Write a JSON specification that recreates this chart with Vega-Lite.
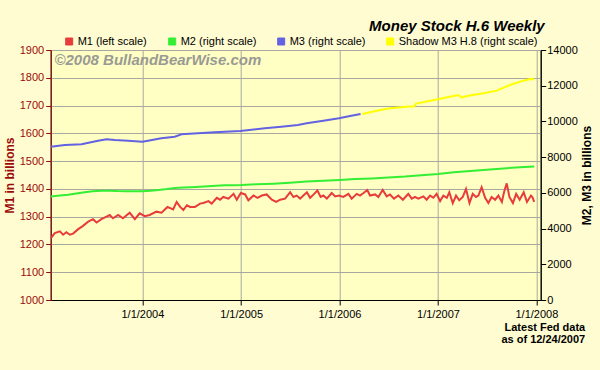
{
"$schema": "https://vega.github.io/schema/vega-lite/v6.json",
"width": 490, "height": 250,
"autosize": {"type": "none"},
"padding": {"left": 50.7, "top": 50, "right": 59.3, "bottom": 70},
"background": "#FFFCD2",
"config": {
  "font": "Liberation Sans",
  "view": {"fill": "#FFFFC4", "stroke": "#000000", "strokeWidth": 1},
  "axis": {"labelFont": "Liberation Sans", "labelFontSize": 11, "titleFont": "Liberation Sans", "gridColor": "#A8A8A0", "gridOpacity": 1, "gridWidth": 1, "tickSize": 5, "domainWidth": 1, "tickWidth": 1, "labelOverlap": false}
},
"title": {"text": "Money Stock H.6 Weekly", "anchor": "end", "frame": "group", "font": "Liberation Sans", "fontSize": 15, "fontWeight": "bold", "fontStyle": "italic", "color": "#000000", "dx": 4, "offset": 2},
"datasets": {"d": [
{"date":"2003-01-27","series":"M1 (left scale)","v":1223},
{"date":"2003-02-10","series":"M1 (left scale)","v":1241},
{"date":"2003-03-01","series":"M1 (left scale)","v":1247},
{"date":"2003-03-13","series":"M1 (left scale)","v":1235},
{"date":"2003-03-25","series":"M1 (left scale)","v":1244},
{"date":"2003-04-07","series":"M1 (left scale)","v":1235},
{"date":"2003-04-19","series":"M1 (left scale)","v":1239},
{"date":"2003-05-08","series":"M1 (left scale)","v":1255},
{"date":"2003-05-26","series":"M1 (left scale)","v":1267},
{"date":"2003-06-14","series":"M1 (left scale)","v":1282},
{"date":"2003-07-02","series":"M1 (left scale)","v":1291},
{"date":"2003-07-15","series":"M1 (left scale)","v":1279},
{"date":"2003-08-02","series":"M1 (left scale)","v":1291},
{"date":"2003-08-21","series":"M1 (left scale)","v":1300},
{"date":"2003-09-02","series":"M1 (left scale)","v":1306},
{"date":"2003-09-14","series":"M1 (left scale)","v":1294},
{"date":"2003-10-03","series":"M1 (left scale)","v":1306},
{"date":"2003-10-21","series":"M1 (left scale)","v":1294},
{"date":"2003-11-15","series":"M1 (left scale)","v":1314},
{"date":"2003-12-04","series":"M1 (left scale)","v":1291},
{"date":"2003-12-22","series":"M1 (left scale)","v":1312},
{"date":"2004-01-10","series":"M1 (left scale)","v":1302},
{"date":"2004-01-28","series":"M1 (left scale)","v":1306},
{"date":"2004-02-22","series":"M1 (left scale)","v":1318},
{"date":"2004-03-12","series":"M1 (left scale)","v":1314},
{"date":"2004-04-03","series":"M1 (left scale)","v":1335},
{"date":"2004-04-24","series":"M1 (left scale)","v":1326},
{"date":"2004-05-07","series":"M1 (left scale)","v":1353},
{"date":"2004-05-20","series":"M1 (left scale)","v":1335},
{"date":"2004-06-01","series":"M1 (left scale)","v":1324},
{"date":"2004-06-14","series":"M1 (left scale)","v":1341},
{"date":"2004-06-26","series":"M1 (left scale)","v":1335},
{"date":"2004-07-14","series":"M1 (left scale)","v":1335},
{"date":"2004-08-02","series":"M1 (left scale)","v":1347},
{"date":"2004-08-14","series":"M1 (left scale)","v":1349},
{"date":"2004-09-02","series":"M1 (left scale)","v":1356},
{"date":"2004-09-14","series":"M1 (left scale)","v":1347},
{"date":"2004-10-03","series":"M1 (left scale)","v":1368},
{"date":"2004-10-15","series":"M1 (left scale)","v":1361},
{"date":"2004-10-27","series":"M1 (left scale)","v":1371},
{"date":"2004-11-15","series":"M1 (left scale)","v":1365},
{"date":"2004-12-04","series":"M1 (left scale)","v":1382},
{"date":"2004-12-16","series":"M1 (left scale)","v":1361},
{"date":"2004-12-31","series":"M1 (left scale)","v":1385},
{"date":"2005-01-16","series":"M1 (left scale)","v":1380},
{"date":"2005-01-28","series":"M1 (left scale)","v":1359},
{"date":"2005-02-16","series":"M1 (left scale)","v":1376},
{"date":"2005-03-03","series":"M1 (left scale)","v":1368},
{"date":"2005-03-19","series":"M1 (left scale)","v":1376},
{"date":"2005-04-06","series":"M1 (left scale)","v":1380},
{"date":"2005-04-25","series":"M1 (left scale)","v":1361},
{"date":"2005-05-11","series":"M1 (left scale)","v":1353},
{"date":"2005-05-26","series":"M1 (left scale)","v":1361},
{"date":"2005-06-13","series":"M1 (left scale)","v":1365},
{"date":"2005-07-02","series":"M1 (left scale)","v":1388},
{"date":"2005-07-14","series":"M1 (left scale)","v":1371},
{"date":"2005-07-26","series":"M1 (left scale)","v":1376},
{"date":"2005-08-08","series":"M1 (left scale)","v":1365},
{"date":"2005-08-20","series":"M1 (left scale)","v":1376},
{"date":"2005-09-02","series":"M1 (left scale)","v":1388},
{"date":"2005-09-14","series":"M1 (left scale)","v":1368},
{"date":"2005-09-29","series":"M1 (left scale)","v":1382},
{"date":"2005-10-11","series":"M1 (left scale)","v":1394},
{"date":"2005-10-23","series":"M1 (left scale)","v":1371},
{"date":"2005-11-02","series":"M1 (left scale)","v":1376},
{"date":"2005-11-15","series":"M1 (left scale)","v":1365},
{"date":"2005-12-03","series":"M1 (left scale)","v":1385},
{"date":"2005-12-16","series":"M1 (left scale)","v":1373},
{"date":"2005-12-30","series":"M1 (left scale)","v":1376},
{"date":"2006-01-15","series":"M1 (left scale)","v":1371},
{"date":"2006-02-03","series":"M1 (left scale)","v":1382},
{"date":"2006-02-15","series":"M1 (left scale)","v":1365},
{"date":"2006-03-06","series":"M1 (left scale)","v":1382},
{"date":"2006-03-18","series":"M1 (left scale)","v":1376},
{"date":"2006-03-31","series":"M1 (left scale)","v":1385},
{"date":"2006-04-14","series":"M1 (left scale)","v":1396},
{"date":"2006-04-24","series":"M1 (left scale)","v":1376},
{"date":"2006-05-13","series":"M1 (left scale)","v":1380},
{"date":"2006-05-25","series":"M1 (left scale)","v":1371},
{"date":"2006-06-10","series":"M1 (left scale)","v":1396},
{"date":"2006-06-25","series":"M1 (left scale)","v":1373},
{"date":"2006-07-07","series":"M1 (left scale)","v":1380},
{"date":"2006-07-22","series":"M1 (left scale)","v":1365},
{"date":"2006-08-07","series":"M1 (left scale)","v":1376},
{"date":"2006-08-24","series":"M1 (left scale)","v":1361},
{"date":"2006-09-13","series":"M1 (left scale)","v":1382},
{"date":"2006-09-26","series":"M1 (left scale)","v":1365},
{"date":"2006-10-08","series":"M1 (left scale)","v":1371},
{"date":"2006-10-20","series":"M1 (left scale)","v":1365},
{"date":"2006-11-08","series":"M1 (left scale)","v":1373},
{"date":"2006-11-20","series":"M1 (left scale)","v":1361},
{"date":"2006-12-03","series":"M1 (left scale)","v":1376},
{"date":"2006-12-15","series":"M1 (left scale)","v":1368},
{"date":"2006-12-27","series":"M1 (left scale)","v":1382},
{"date":"2007-01-09","series":"M1 (left scale)","v":1356},
{"date":"2007-01-21","series":"M1 (left scale)","v":1376},
{"date":"2007-02-03","series":"M1 (left scale)","v":1368},
{"date":"2007-02-12","series":"M1 (left scale)","v":1388},
{"date":"2007-02-25","series":"M1 (left scale)","v":1349},
{"date":"2007-03-09","series":"M1 (left scale)","v":1376},
{"date":"2007-03-21","series":"M1 (left scale)","v":1359},
{"date":"2007-04-03","series":"M1 (left scale)","v":1371},
{"date":"2007-04-15","series":"M1 (left scale)","v":1400},
{"date":"2007-04-28","series":"M1 (left scale)","v":1349},
{"date":"2007-05-10","series":"M1 (left scale)","v":1382},
{"date":"2007-05-22","series":"M1 (left scale)","v":1371},
{"date":"2007-05-31","series":"M1 (left scale)","v":1376},
{"date":"2007-06-12","series":"M1 (left scale)","v":1406},
{"date":"2007-06-25","series":"M1 (left scale)","v":1368},
{"date":"2007-07-07","series":"M1 (left scale)","v":1349},
{"date":"2007-07-19","series":"M1 (left scale)","v":1371},
{"date":"2007-08-01","series":"M1 (left scale)","v":1361},
{"date":"2007-08-13","series":"M1 (left scale)","v":1376},
{"date":"2007-08-26","series":"M1 (left scale)","v":1353},
{"date":"2007-09-03","series":"M1 (left scale)","v":1388},
{"date":"2007-09-13","series":"M1 (left scale)","v":1420},
{"date":"2007-09-23","series":"M1 (left scale)","v":1371},
{"date":"2007-10-06","series":"M1 (left scale)","v":1349},
{"date":"2007-10-18","series":"M1 (left scale)","v":1382},
{"date":"2007-10-31","series":"M1 (left scale)","v":1361},
{"date":"2007-11-15","series":"M1 (left scale)","v":1388},
{"date":"2007-11-27","series":"M1 (left scale)","v":1353},
{"date":"2007-12-12","series":"M1 (left scale)","v":1376},
{"date":"2007-12-17","series":"M1 (left scale)","v":1371},
{"date":"2007-12-24","series":"M1 (left scale)","v":1353},
{"date":"2003-01-27","series":"M2 (right scale)","v":5800},
{"date":"2003-03-01","series":"M2 (right scale)","v":5850},
{"date":"2003-04-01","series":"M2 (right scale)","v":5900},
{"date":"2003-05-01","series":"M2 (right scale)","v":5960},
{"date":"2003-06-01","series":"M2 (right scale)","v":6030},
{"date":"2003-07-01","series":"M2 (right scale)","v":6090},
{"date":"2003-08-01","series":"M2 (right scale)","v":6120},
{"date":"2003-09-01","series":"M2 (right scale)","v":6120},
{"date":"2003-10-01","series":"M2 (right scale)","v":6100},
{"date":"2003-11-01","series":"M2 (right scale)","v":6090},
{"date":"2003-12-01","series":"M2 (right scale)","v":6085},
{"date":"2004-01-01","series":"M2 (right scale)","v":6090},
{"date":"2004-02-01","series":"M2 (right scale)","v":6120},
{"date":"2004-03-01","series":"M2 (right scale)","v":6160},
{"date":"2004-04-01","series":"M2 (right scale)","v":6210},
{"date":"2004-05-01","series":"M2 (right scale)","v":6270},
{"date":"2004-06-01","series":"M2 (right scale)","v":6300},
{"date":"2004-07-01","series":"M2 (right scale)","v":6320},
{"date":"2004-08-01","series":"M2 (right scale)","v":6340},
{"date":"2004-09-01","series":"M2 (right scale)","v":6370},
{"date":"2004-10-01","series":"M2 (right scale)","v":6400},
{"date":"2004-11-01","series":"M2 (right scale)","v":6420},
{"date":"2004-12-01","series":"M2 (right scale)","v":6430},
{"date":"2005-01-01","series":"M2 (right scale)","v":6440},
{"date":"2005-03-01","series":"M2 (right scale)","v":6480},
{"date":"2005-05-01","series":"M2 (right scale)","v":6510},
{"date":"2005-07-01","series":"M2 (right scale)","v":6560},
{"date":"2005-09-01","series":"M2 (right scale)","v":6630},
{"date":"2005-11-01","series":"M2 (right scale)","v":6680},
{"date":"2006-01-01","series":"M2 (right scale)","v":6720},
{"date":"2006-03-01","series":"M2 (right scale)","v":6770},
{"date":"2006-05-01","series":"M2 (right scale)","v":6810},
{"date":"2006-07-01","series":"M2 (right scale)","v":6860},
{"date":"2006-09-01","series":"M2 (right scale)","v":6910},
{"date":"2006-11-01","series":"M2 (right scale)","v":6990},
{"date":"2007-01-01","series":"M2 (right scale)","v":7060},
{"date":"2007-03-01","series":"M2 (right scale)","v":7150},
{"date":"2007-05-01","series":"M2 (right scale)","v":7220},
{"date":"2007-07-01","series":"M2 (right scale)","v":7290},
{"date":"2007-09-01","series":"M2 (right scale)","v":7370},
{"date":"2007-11-01","series":"M2 (right scale)","v":7430},
{"date":"2007-12-24","series":"M2 (right scale)","v":7480},
{"date":"2003-01-27","series":"M3 (right scale)","v":8587},
{"date":"2003-03-19","series":"M3 (right scale)","v":8680},
{"date":"2003-05-20","series":"M3 (right scale)","v":8717},
{"date":"2003-07-21","series":"M3 (right scale)","v":8923},
{"date":"2003-08-21","series":"M3 (right scale)","v":8997},
{"date":"2003-09-21","series":"M3 (right scale)","v":8960},
{"date":"2003-11-09","series":"M3 (right scale)","v":8923},
{"date":"2004-01-01","series":"M3 (right scale)","v":8867},
{"date":"2004-01-22","series":"M3 (right scale)","v":8923},
{"date":"2004-03-11","series":"M3 (right scale)","v":9053},
{"date":"2004-04-30","series":"M3 (right scale)","v":9147},
{"date":"2004-05-25","series":"M3 (right scale)","v":9277},
{"date":"2004-07-25","series":"M3 (right scale)","v":9333},
{"date":"2004-09-25","series":"M3 (right scale)","v":9389},
{"date":"2004-12-29","series":"M3 (right scale)","v":9464},
{"date":"2005-03-30","series":"M3 (right scale)","v":9613},
{"date":"2005-05-30","series":"M3 (right scale)","v":9707},
{"date":"2005-07-31","series":"M3 (right scale)","v":9800},
{"date":"2005-09-01","series":"M3 (right scale)","v":9893},
{"date":"2005-11-02","series":"M3 (right scale)","v":10043},
{"date":"2005-12-30","series":"M3 (right scale)","v":10173},
{"date":"2006-02-09","series":"M3 (right scale)","v":10304},
{"date":"2006-03-20","series":"M3 (right scale)","v":10416},
{"date":"2006-03-27","series":"Shadow M3 H.8 (right scale)","v":10416},
{"date":"2006-05-19","series":"Shadow M3 H.8 (right scale)","v":10603},
{"date":"2006-07-07","series":"Shadow M3 H.8 (right scale)","v":10733},
{"date":"2006-09-07","series":"Shadow M3 H.8 (right scale)","v":10827},
{"date":"2006-10-05","series":"Shadow M3 H.8 (right scale)","v":10850},
{"date":"2006-10-12","series":"Shadow M3 H.8 (right scale)","v":11000},
{"date":"2006-12-03","series":"Shadow M3 H.8 (right scale)","v":11163},
{"date":"2007-01-01","series":"Shadow M3 H.8 (right scale)","v":11237},
{"date":"2007-02-27","series":"Shadow M3 H.8 (right scale)","v":11424},
{"date":"2007-03-18","series":"Shadow M3 H.8 (right scale)","v":11480},
{"date":"2007-03-30","series":"Shadow M3 H.8 (right scale)","v":11330},
{"date":"2007-04-18","series":"Shadow M3 H.8 (right scale)","v":11424},
{"date":"2007-06-19","series":"Shadow M3 H.8 (right scale)","v":11573},
{"date":"2007-08-07","series":"Shadow M3 H.8 (right scale)","v":11723},
{"date":"2007-09-25","series":"Shadow M3 H.8 (right scale)","v":12040},
{"date":"2007-11-14","series":"Shadow M3 H.8 (right scale)","v":12283},
{"date":"2007-12-08","series":"Shadow M3 H.8 (right scale)","v":12376},
{"date":"2007-12-24","series":"Shadow M3 H.8 (right scale)","v":12357}
]},
"layer": [
  {"layer": [
    {"data": {"name": "d"},
     "transform": [{"filter": "datum.series === 'M1 (left scale)'"}],
     "mark": {"type": "line", "strokeWidth": 2},
     "encoding": {
       "x": {"field": "date", "type": "temporal",
         "scale": {"type": "utc", "domain": [{"year": 2003, "month": 1, "date": 26, "utc": true}, {"year": 2008, "month": 1, "date": 17, "utc": true}]},
         "axis": {"values": [{"year": 2004, "month": 1, "date": 1, "utc": true}, {"year": 2005, "month": 1, "date": 1, "utc": true}, {"year": 2006, "month": 1, "date": 1, "utc": true}, {"year": 2007, "month": 1, "date": 1, "utc": true}, {"year": 2008, "month": 1, "date": 1, "utc": true}],
           "labelExpr": "utcFormat(datum.value, '%-m/%-d/%Y')", "labelColor": "#000000", "tickColor": "#000000", "domainColor": "#000000", "labelPadding": 3, "grid": true,
           "title": ["Latest Fed data", "as of 12/24/2007"], "titleFontSize": 11, "titleFontWeight": "bold", "titleColor": "#000000",
           "titleAnchor": "end", "titleAlign": "right", "titleX": 534, "titleY": 21, "titleBaseline": "top", "titleLineHeight": 12}},
       "y": {"field": "v", "type": "quantitative", "scale": {"domain": [1000, 1900]},
         "axis": {"values": [1000, 1100, 1200, 1300, 1400, 1500, 1600, 1700, 1800, 1900], "format": "d", "labelColor": "#9B0A0A", "tickColor": "#9B0A0A", "domainColor": "#9B0A0A", "grid": true, "labelPadding": 2,
           "title": "M1 in billions", "titleColor": "#9B0A0A", "titleFontSize": 12, "titleFontWeight": "bold", "titlePadding": 3}},
       "color": {"field": "series", "type": "nominal",
         "scale": {"domain": ["M1 (left scale)", "M2 (right scale)", "M3 (right scale)", "Shadow M3 H.8 (right scale)"], "range": ["#E83C3C", "#33EE33", "#6262E2", "#FFFF00"]},
         "legend": {"orient": "none", "legendX": 13, "legendY": -14, "direction": "horizontal", "columns": 4, "title": null,
           "labelFont": "Liberation Sans", "labelFontSize": 11, "labelColor": "#000000", "labelOffset": 3, "labelLimit": 300,
           "symbolType": "square", "symbolSize": 49, "symbolStrokeWidth": 1, "symbolStrokeColor": "#333333", "columnPadding": 19, "padding": 0, "symbolOffset": 0,
           "encode": {"symbols": {"update": {"fill": {"scale": "color", "field": "value"}, "stroke": {"value": "#333333"}, "strokeWidth": {"value": 1}, "opacity": {"value": 1}}}}}}}},
    {"data": {"values": [{}]},
     "mark": {"type": "text", "text": "©2008 BullandBearWise.com", "align": "left", "baseline": "middle", "font": "Liberation Sans", "fontSize": 15, "fontWeight": "bold", "fontStyle": "italic", "color": "#9A9A94"},
     "encoding": {
       "x": {"datum": {"year": 2003, "month": 2, "date": 9, "utc": true}, "type": "temporal",
         "axis": {"values": [{"year": 2004, "month": 1, "date": 1, "utc": true}, {"year": 2005, "month": 1, "date": 1, "utc": true}, {"year": 2006, "month": 1, "date": 1, "utc": true}, {"year": 2007, "month": 1, "date": 1, "utc": true}, {"year": 2008, "month": 1, "date": 1, "utc": true}],
           "labelExpr": "utcFormat(datum.value, '%-m/%-d/%Y')", "labelColor": "#000000", "tickColor": "#000000", "domainColor": "#000000", "labelPadding": 3, "grid": true,
           "title": ["Latest Fed data", "as of 12/24/2007"], "titleFontSize": 11, "titleFontWeight": "bold", "titleColor": "#000000",
           "titleAnchor": "end", "titleAlign": "right", "titleX": 534, "titleY": 21, "titleBaseline": "top", "titleLineHeight": 12}},
       "y": {"datum": 1864, "type": "quantitative",
         "axis": {"values": [1000, 1100, 1200, 1300, 1400, 1500, 1600, 1700, 1800, 1900], "format": "d", "labelColor": "#9B0A0A", "tickColor": "#9B0A0A", "domainColor": "#9B0A0A", "grid": true, "labelPadding": 2,
           "title": "M1 in billions", "titleColor": "#9B0A0A", "titleFontSize": 12, "titleFontWeight": "bold", "titlePadding": 3}}}}
  ]},
  {"data": {"name": "d"},
   "transform": [{"filter": "datum.series !== 'M1 (left scale)'"}],
   "mark": {"type": "line", "strokeWidth": 2},
   "encoding": {
     "x": {"field": "date", "type": "temporal",
       "axis": {"values": [{"year": 2004, "month": 1, "date": 1, "utc": true}, {"year": 2005, "month": 1, "date": 1, "utc": true}, {"year": 2006, "month": 1, "date": 1, "utc": true}, {"year": 2007, "month": 1, "date": 1, "utc": true}, {"year": 2008, "month": 1, "date": 1, "utc": true}],
         "labelExpr": "utcFormat(datum.value, '%-m/%-d/%Y')", "labelColor": "#000000", "tickColor": "#000000", "domainColor": "#000000", "labelPadding": 3, "grid": true,
         "title": ["Latest Fed data", "as of 12/24/2007"], "titleFontSize": 11, "titleFontWeight": "bold", "titleColor": "#000000",
         "titleAnchor": "end", "titleAlign": "right", "titleX": 534, "titleY": 21, "titleBaseline": "top", "titleLineHeight": 12}},
     "y": {"field": "v", "type": "quantitative", "scale": {"domain": [0, 14000]},
       "axis": {"orient": "right", "values": [0, 2000, 4000, 6000, 8000, 10000, 12000, 14000], "format": "d", "labelColor": "#000000", "tickColor": "#000000", "domainColor": "#000000", "grid": false, "labelPadding": 1,
         "title": "M2, M3 in billions", "titleAngle": 270, "titleColor": "#000000", "titleFontSize": 12, "titleFontWeight": "bold", "titlePadding": 16}},
     "color": {"field": "series", "type": "nominal",
       "scale": {"domain": ["M1 (left scale)", "M2 (right scale)", "M3 (right scale)", "Shadow M3 H.8 (right scale)"], "range": ["#E83C3C", "#33EE33", "#6262E2", "#FFFF00"]},
       "legend": {"orient": "none", "legendX": 13, "legendY": -14, "direction": "horizontal", "columns": 4, "title": null,
         "labelFont": "Liberation Sans", "labelFontSize": 11, "labelColor": "#000000", "labelOffset": 3, "labelLimit": 300,
         "symbolType": "square", "symbolSize": 49, "symbolStrokeWidth": 1, "symbolStrokeColor": "#333333", "columnPadding": 19, "padding": 0, "symbolOffset": 0,
         "encode": {"symbols": {"update": {"fill": {"scale": "color", "field": "value"}, "stroke": {"value": "#333333"}, "strokeWidth": {"value": 1}, "opacity": {"value": 1}}}}}}}}
],
"resolve": {"scale": {"y": "independent"}, "axis": {"y": "independent"}}
}
